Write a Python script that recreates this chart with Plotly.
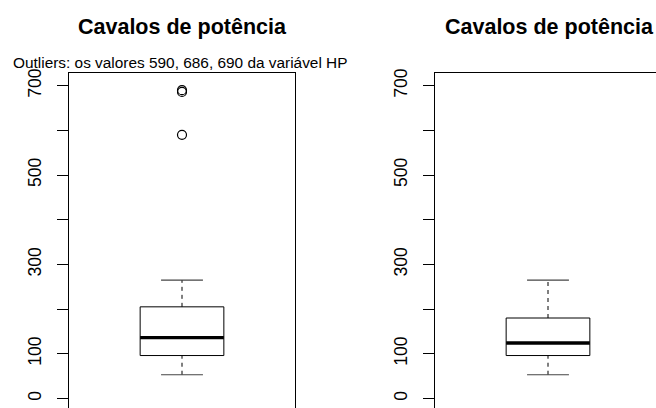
import plotly.graph_objects as go

# Horsepower summary: with outliers (left) and after removing them (right)
panel_titles = ["Cavalos de potência", "Cavalos de potência"]
subtitle = "Outliers: os valores 590, 686, 690 da variável HP"

stats_with = {"low": 53, "q1": 96, "med": 136, "q3": 205, "high": 265}
outliers_with = [590, 686, 690]
stats_without = {"low": 53, "q1": 96, "med": 124, "q3": 180, "high": 265}

y_tick_vals = [0, 100, 200, 300, 400, 500, 600, 700]
y_tick_text = ["0", "100", "", "300", "", "500", "", "700"]

W, H = 656, 408
FONT = "Liberation Sans, Arial, Helvetica, sans-serif"

fig = go.Figure()


def px_x(p):
    return p / W


def px_y(p):
    return 1 - p / H


def add_boxplot(stats, outs, xa, ya):
    c = 1.0
    hb, hs = 0.2, 0.1
    common = dict(xaxis=xa, yaxis=ya, mode="lines", showlegend=False, hoverinfo="skip")
    # whiskers (dashed)
    fig.add_trace(go.Scatter(x=[c, c], y=[stats["q3"], stats["high"]],
                             line=dict(color="black", width=1, dash="4px,4px"), **common))
    fig.add_trace(go.Scatter(x=[c, c], y=[stats["low"], stats["q1"]],
                             line=dict(color="black", width=1, dash="4px,4px"), **common))
    # staples
    for v in (stats["low"], stats["high"]):
        fig.add_trace(go.Scatter(x=[c - hs, c + hs], y=[v, v],
                                 line=dict(color="#444444", width=1.2), **common))
    # box
    fig.add_trace(go.Scatter(x=[c - hb, c + hb, c + hb, c - hb, c - hb],
                             y=[stats["q1"], stats["q1"], stats["q3"], stats["q3"], stats["q1"]],
                             line=dict(color="black", width=1), **common))
    # median
    fig.add_trace(go.Scatter(x=[c - hb, c + hb], y=[stats["med"], stats["med"]],
                             line=dict(color="black", width=3.3), **common))
    if outs:
        fig.add_trace(go.Scatter(x=[c] * len(outs), y=outs, mode="markers", xaxis=xa, yaxis=ya,
                                 showlegend=False, hoverinfo="skip",
                                 marker=dict(symbol="circle-open", size=9, color="black",
                                             line=dict(width=1.2, color="black"))))


add_boxplot(stats_with, outliers_with, "x", "y")
add_boxplot(stats_without, [], "x2", "y2")

# axis geometry (pixel layout of the two panels)
left_px = (69, 295)
right_px = (435, 663)
plot_top = 69
x_lo, x_hi = 0.46, 1.54
unit_px = (left_px[1] - left_px[0]) / (x_hi - x_lo)
right_end = x_lo + (min(right_px[1], W) - right_px[0]) / unit_px

y_zero_px, y_scale = 398.3, 0.45229
y_top = (y_zero_px - plot_top) / y_scale
y_bot = (y_zero_px - H) / y_scale

yax = dict(range=[y_bot, y_top], domain=[0, px_y(plot_top)], tickmode="array",
           tickvals=y_tick_vals, ticktext=y_tick_text, tickangle=-90, ticks="outside",
           ticklen=11, tickwidth=1, tickcolor="black", showline=True, linecolor="black",
           linewidth=1, showgrid=False, zeroline=False, ticklabelstandoff=9,
           tickfont=dict(family=FONT, size=17.6, color="black"), fixedrange=True)
xax = dict(side="top", showline=True, linecolor="black", linewidth=1, showticklabels=False,
           ticks="", showgrid=False, zeroline=False, fixedrange=True)

fig.update_layout(
    width=W, height=H, margin=dict(l=0, r=0, t=0, b=0),
    paper_bgcolor="white", plot_bgcolor="white",
    xaxis=dict(domain=[px_x(left_px[0]), px_x(left_px[1])], range=[x_lo, x_hi], anchor="y", **xax),
    yaxis=dict(anchor="x", mirror=True, **yax),
    xaxis2=dict(domain=[px_x(right_px[0]), 1.0], range=[x_lo, right_end], anchor="y2", **xax),
    yaxis2=dict(anchor="x2", mirror=False, **yax),
)

centers = [(left_px[0] + left_px[1]) / 2, (right_px[0] + right_px[1]) / 2]
for cx, t in zip(centers, panel_titles):
    fig.add_annotation(text=f"<b>{t}</b>", x=px_x(cx), y=px_y(22), xref="paper", yref="paper",
                       xanchor="center", yanchor="middle", showarrow=False,
                       font=dict(family=FONT, size=21.5, color="black"))
fig.add_annotation(text=subtitle, x=px_x(180), y=px_y(58.5), xref="paper", yref="paper",
                   xanchor="center", yanchor="middle", showarrow=False,
                   font=dict(family=FONT, size=15.4, color="black"))

fig.write_html("out.html")
